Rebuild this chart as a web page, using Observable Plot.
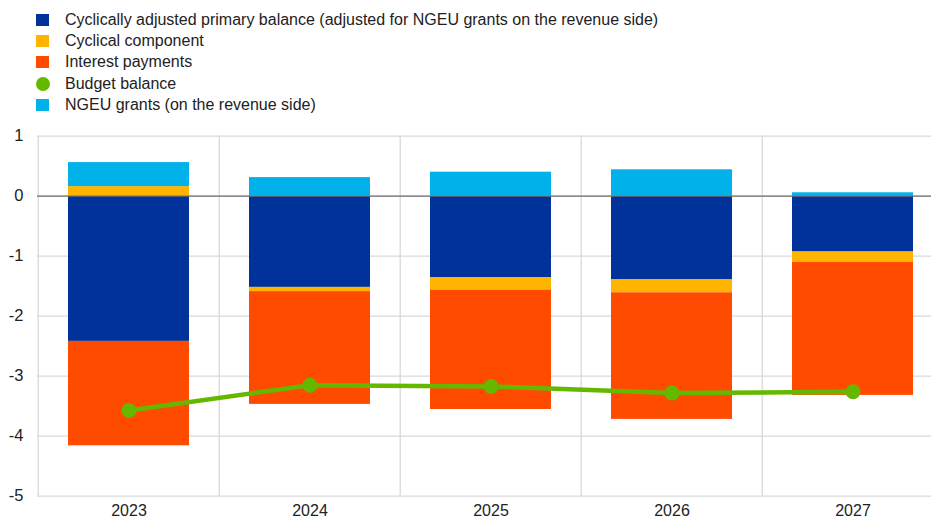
<!DOCTYPE html>
<html>
<head>
<meta charset="utf-8">
<script src="https://cdn.jsdelivr.net/npm/d3@7"></script>
<script src="https://cdn.jsdelivr.net/npm/@observablehq/plot@0.6"></script>
<style>
  html, body { margin: 0; padding: 0; background: #fff; overflow: hidden; }
  #wrap { position: relative; width: 931px; height: 520px; overflow: hidden; font-family: "Liberation Sans", Arial, sans-serif; }
  #legend { position: absolute; left: 36px; top: 9px; z-index: 2; }
  .item { display: flex; align-items: center; height: 21.3px; font-size: 16px; color: #222; }
  .sw { width: 13px; height: 12px; margin-right: 16px; flex: none; }
  .sw.circle { border-radius: 50%; width: 14px; height: 14px; margin-right: 15px; }
  #chart { position: absolute; left: 0; top: 0; }
  #chart svg { max-width: none !important; }
</style>
</head>
<body>
<div id="wrap">
  <div id="legend"></div>
  <div id="chart"></div>
</div>
<script>
const years = ["2023", "2024", "2025", "2026", "2027"];
const capb = [-2.42, -1.52, -1.355, -1.395, -0.93];
const cyclical = [0.16, -0.07, -0.21, -0.215, -0.17];
const interest = [-1.74, -1.88, -1.99, -2.11, -2.22];
const ngeu = [0.40, 0.31, 0.40, 0.44, 0.057];
const budget = [-3.57, -3.15, -3.17, -3.28, -3.26];
const yTicks = [1, 0, -1, -2, -3, -4, -5];

const seriesNames = [
  "Cyclically adjusted primary balance (adjusted for NGEU grants on the revenue side)",
  "Cyclical component",
  "Interest payments",
  "NGEU grants (on the revenue side)"
];
const seriesColors = ["#003299", "#ffb400", "#ff4b00", "#00b1ea"];
const budgetName = "Budget balance";
const budgetColor = "#65b800";

const seriesValues = [capb, cyclical, interest, ngeu];
const rows = [];
seriesNames.forEach((s, i) => {
  years.forEach((y, j) => rows.push({year: y, series: s, value: seriesValues[i][j], order: i}));
});
const lineRows = years.map((y, j) => ({year: y, value: budget[j]}));

// Legend
const legendItems = [
  {name: seriesNames[0], color: seriesColors[0], shape: "square"},
  {name: seriesNames[1], color: seriesColors[1], shape: "square"},
  {name: seriesNames[2], color: seriesColors[2], shape: "square"},
  {name: budgetName, color: budgetColor, shape: "circle"},
  {name: seriesNames[3], color: seriesColors[3], shape: "square"}
];
const legend = document.getElementById("legend");
legendItems.forEach(it => {
  const d = document.createElement("div");
  d.className = "item";
  const sw = document.createElement("span");
  sw.className = "sw" + (it.shape === "circle" ? " circle" : "");
  sw.style.background = it.color;
  const t = document.createElement("span");
  t.textContent = it.name;
  d.appendChild(sw); d.appendChild(t);
  legend.appendChild(d);
});

const W = 945, ML = 37, MR = 0;
const step = (W - ML - MR) / years.length;

const chart = Plot.plot({
  width: W,
  height: 520,
  marginTop: 135.7,
  marginBottom: 24.3,
  marginLeft: ML,
  marginRight: MR,
  style: {fontFamily: "Liberation Sans, Arial, sans-serif", fontSize: "16px", color: "#222", background: "transparent", maxWidth: "none"},
  x: {domain: years, paddingInner: 0.33, paddingOuter: 0.165, label: null},
  y: {domain: [-5, 1], label: null},
  color: {domain: seriesNames, range: seriesColors},
  marks: [
    Plot.ruleY(yTicks, {stroke: "#d9d9d9", strokeWidth: 1.3}),
    Plot.ruleX(years, {x: d => d, dx: -step / 2, stroke: "#d9d9d9", strokeWidth: 1.3}),
    Plot.barY(rows, Plot.stackY({order: "order"}, {x: "year", y: "value", fill: "series", z: "series", order: "order"})),
    Plot.ruleY([0], {stroke: "#6e6e6e", strokeWidth: 1.3}),
    Plot.line(lineRows, {x: "year", y: "value", stroke: budgetColor, strokeWidth: 4.5}),
    Plot.dot(lineRows, {x: "year", y: "value", r: 7.5, fill: budgetColor}),
    Plot.axisY({ticks: yTicks, tickSize: 0, tickPadding: 14, tickFormat: d => String(d), fontSize: 16.5}),
    Plot.axisX({tickSize: 0, tickPadding: 8, fontSize: 16})
  ]
});
document.getElementById("chart").appendChild(chart);
</script>
</body>
</html>
